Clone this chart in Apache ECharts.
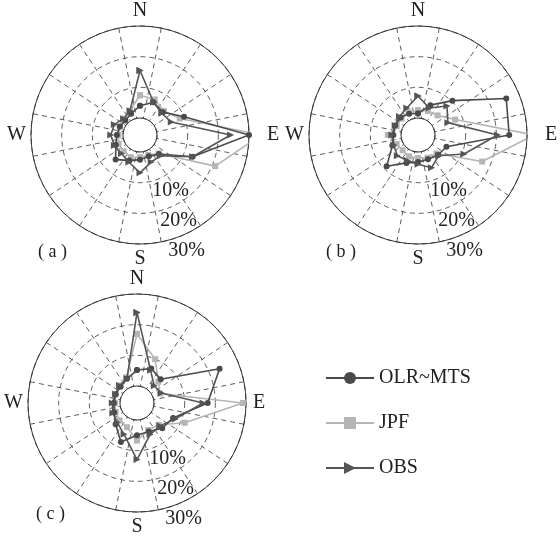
<!DOCTYPE html>
<html><head><meta charset="utf-8">
<script src="https://cdn.jsdelivr.net/npm/echarts@6/dist/echarts.min.js"></script>
<style>html,body{margin:0;padding:0;background:#fff}#c{width:560px;height:537px}</style>
</head><body><div id="c"></div>
<script>
// ---- data ----
const directions = ['N','NNE','NE','ENE','E','ESE','SE','SSE','S','SSW','SW','WSW','W','WNW','NW','NNW'];
const cardinals = ['N','E','S','W'];
const radialTickValues = [10, 20, 30];
const radialTickLabels = ['10%', '20%', '30%'];
const panelNames = ['( a )', '( b )', '( c )'];
const seriesNames = ['OLR~MTS', 'JPF', 'OBS'];

// panel (a)
const olrA = [4, 6, 5, 10, 30, 13, 3.2, 2, 2.5, 3.5, 5.7, 3, 2, 1.6, 1.2, 2];
const jpfA = [7.4, 7, 5.5, 8.5, 34, 21, 3, 1.5, 1.7, 2.3, 2, 2, 1.5, 1.5, 2, 3];
const obsA = [15.5, 6, 4.5, 5.5, 24, 13, 4, 4, 6.8, 4, 3, 3.5, 4, 3.5, 2, 3];
// panel (b)
const olrB = [1.5, 5, 10.3, 25.6, 24.2, 4.5, 3.7, 3, 3.3, 4.3, 8.9, 3.5, 2.5, 2.5, 2.5, 2];
const jpfB = [2.6, 2.9, 3.5, 7.6, 32.3, 17.1, 3, 2.5, 2, 2, 1.5, 2, 4.3, 2, 2, 2.5];
const obsB = [7.2, 4, 7.8, 5, 20.4, 10.7, 4, 6, 4, 3.5, 4, 3, 3, 2.5, 3, 4];
// panel (c)
const olrC = [5.2, 6.6, 5.4, 23.6, 17.5, 7.2, 6.1, 4.5, 5, 8.2, 4.3, 2.5, 2, 2, 2, 3];
const jpfC = [17, 9.9, 4.3, 2.6, 29, 11.3, 4.5, 4, 6.7, 3, 2.5, 2, 1.6, 2, 2.5, 3.5];
const obsC = [24, 6, 2.4, 3, 16, 8, 5, 5.6, 12.9, 5.5, 3.5, 3, 2.5, 2, 2.5, 3];

const panelData = [
  [olrA, jpfA, obsA],
  [olrB, jpfB, obsB],
  [olrC, jpfC, obsC]
];

// ---- layout / style ----
const layout = [
  {center: [140, 135], eGap: 13, title: [33, 238]},
  {center: [418, 135], eGap: 13, title: [321, 238]},
  {center: [137, 403], eGap: 2, title: [31, 500]}
];
const RADII = [17, 109];
const serif = 'Liberation Serif';
const styles = [
  {color: '#4a4a4a', symbol: 'circle', size: 6},
  {color: '#b5b5b5', symbol: 'rect', size: 6},
  {color: '#555555', symbol: 'path://M0,0L10,5L0,10Z', size: 7}
];

const polar = [], angleAxis = [], radiusAxis = [], series = [], title = [];
layout.forEach((L, p) => {
  polar.push({center: L.center, radius: RADII});
  angleAxis.push({
    polarIndex: p, type: 'category', startAngle: 90 + 180 / directions.length, clockwise: true,
    boundaryGap: true,
    data: directions.map(d => d === 'E' ? {value: d, textStyle: {padding: [0, 0, 0, L.eGap]}} : d),
    axisLine: {lineStyle: {color: '#333', width: 1}},
    axisTick: {show: false},
    axisLabel: {margin: 5, formatter: v => cardinals.includes(v) ? v : '',
      fontFamily: serif, fontSize: 20, color: '#222'},
    splitLine: {show: true, lineStyle: {color: '#333', width: 0.8, type: [5, 4]}}
  });
  radiusAxis.push({
    polarIndex: p, type: 'value', min: 0, max: 30, interval: 10,
    axisLine: {show: false}, axisTick: {show: false}, axisLabel: {show: false},
    splitLine: {show: true, lineStyle: {color: '#333', width: 0.8, type: [5, 4]}}
  });
  title.push({text: panelNames[p], left: L.title[0], top: L.title[1],
    textStyle: {fontFamily: serif, fontSize: 18, fontWeight: 'normal', color: '#222'}});
  panelData[p].forEach((vals, s) => {
    const st = styles[s];
    const pts = vals.map((v, i) => [v, directions[i]]);
    pts.push(pts[0]);
    series.push({
      name: seriesNames[s], type: 'line', coordinateSystem: 'polar', polarIndex: p,
      data: pts, symbol: st.symbol, symbolSize: st.size, showAllSymbol: true,
      lineStyle: {color: st.color, width: 1.6}, itemStyle: {color: st.color},
      z: 3 + (s === 1 ? 0 : 1), animation: false
    });
  });
});
// polar systems carrying the radial tick labels (10%, 20%, 30%)
layout.forEach((L, p) => {
  const idx = polar.length;
  polar.push({center: L.center, radius: RADII});
  angleAxis.push({polarIndex: idx, type: 'value', min: 0, max: 360, startAngle: -75,
    axisLine: {show: false}, axisTick: {show: false}, axisLabel: {show: false}, splitLine: {show: false}});
  radiusAxis.push({polarIndex: idx, type: 'value', min: 0, max: 30, interval: 10, z: 10,
    axisLine: {show: false}, axisTick: {show: false}, splitLine: {show: false},
    axisLabel: {show: true, margin: 0, align: 'left', verticalAlign: 'top',
      formatter: v => { const k = radialTickValues.indexOf(v); return k >= 0 ? radialTickLabels[k] : ''; },
      fontFamily: serif, fontSize: 20, color: '#222'}});
});

const chart = echarts.init(document.getElementById('c'), null, {renderer: 'canvas'});
chart.setOption({
  animation: false,
  backgroundColor: '#fff',
  title,
  polar, angleAxis, radiusAxis, series,
  legend: {
    data: seriesNames, orient: 'vertical', left: 320, top: 363, itemGap: 25,
    itemWidth: 48, itemHeight: 15, selectedMode: false,
    textStyle: {fontFamily: serif, fontSize: 20, color: '#222'}
  }
});
</script></body></html>
